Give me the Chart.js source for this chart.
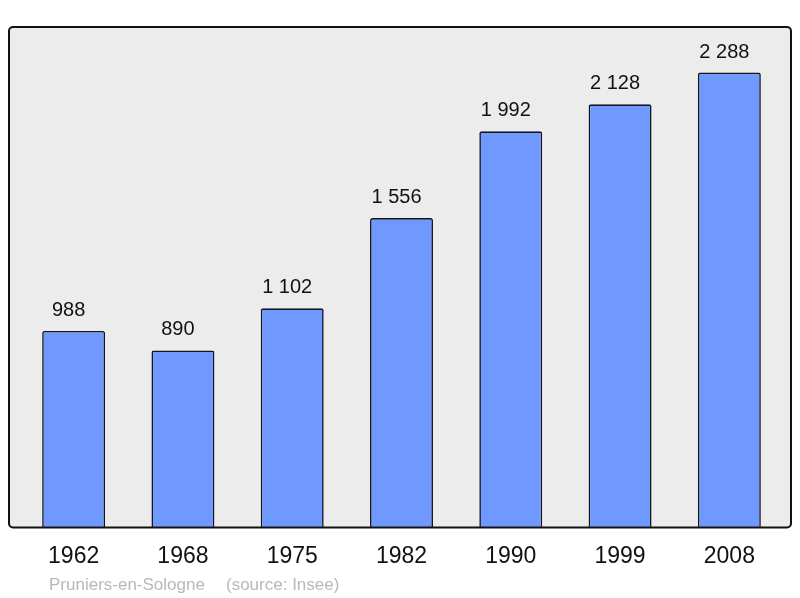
<!DOCTYPE html>
<html>
<head>
<meta charset="utf-8">
<script src="https://cdn.jsdelivr.net/npm/chart.js@4"></script>
<style>
  html, body { margin: 0; padding: 0; background: #fff; }
  #wrap { width: 800px; height: 598px; }
</style>
</head>
<body>
<div id="wrap"><canvas id="mycanvas"></canvas></div>
<script>
var years = ['1962', '1968', '1975', '1982', '1990', '1999', '2008'];
var population = [988, 890, 1102, 1556, 1992, 2128, 2288];
var townName = 'Pruniers-en-Sologne';
var sourceNote = '(source: Insee)';

function fmt(n) {
  return String(n).replace(/\B(?=(\d{3})+(?!\d))/g, ' ');
}

function framePath(c, a) {
  var x = 9, y = a.top, w = 782, h = a.bottom - a.top, r = 4;
  c.beginPath();
  c.moveTo(x + r, y);
  c.arcTo(x + w, y, x + w, y + h, r);
  c.arcTo(x + w, y + h, x, y + h, r);
  c.arcTo(x, y + h, x, y, r);
  c.arcTo(x, y, x + w, y, r);
  c.closePath();
}

// grey rounded frame behind the plot + labels above bars
var framePlugin = {
  id: 'frame',
  beforeDraw: function(chart) {
    var c = chart.ctx;
    c.save();
    framePath(c, chart.chartArea);
    c.fillStyle = '#ececec';
    c.fill();
    c.restore();
  },
  afterDatasetsDraw: function(chart) {
    var c = chart.ctx;
    c.save();
    framePath(c, chart.chartArea);
    c.lineWidth = 2;
    c.strokeStyle = '#111';
    c.stroke();

    var meta = chart.getDatasetMeta(0);
    c.fillStyle = '#111';
    c.font = '20px "Liberation Sans", Arial, sans-serif';
    c.textAlign = 'center';
    c.textBaseline = 'alphabetic';
    meta.data.forEach(function(bar, i) {
      c.fillText(fmt(population[i]), bar.x - 5, bar.y - 15);
    });

    c.fillStyle = '#b8b8b8';
    c.font = '17px "Liberation Sans", Arial, sans-serif';
    c.textAlign = 'left';
    c.fillText(townName, 49, 590);
    c.fillText(sourceNote, 226, 590);
    c.restore();
  }
};

var ctx = document.getElementById('mycanvas');
var chart = new Chart(ctx, {
  type: 'bar',
  data: {
    labels: years,
    datasets: [{
      data: population,
      backgroundColor: '#7099ff',
      borderColor: '#141420',
      borderWidth: 1.6,
      borderRadius: 2,
      borderSkipped: 'bottom',
      categoryPercentage: 1,
      barPercentage: 0.576
    }]
  },
  options: {
    responsive: true,
    maintainAspectRatio: false,
    animation: false,
    layout: { padding: { top: 27, left: 19, right: 16, bottom: 13 } },
    plugins: { legend: { display: false }, tooltip: { enabled: false } },
    scales: {
      x: {
        grid: { display: false, drawTicks: false },
        border: { display: false },
        ticks: {
          color: '#111',
          padding: 15,
          font: { size: 23, family: '"Liberation Sans", Arial, sans-serif' }
        }
      },
      y: {
        display: false,
        min: 0,
        max: 2517
      }
    }
  },
  plugins: [framePlugin]
});
</script>
</body>
</html>
